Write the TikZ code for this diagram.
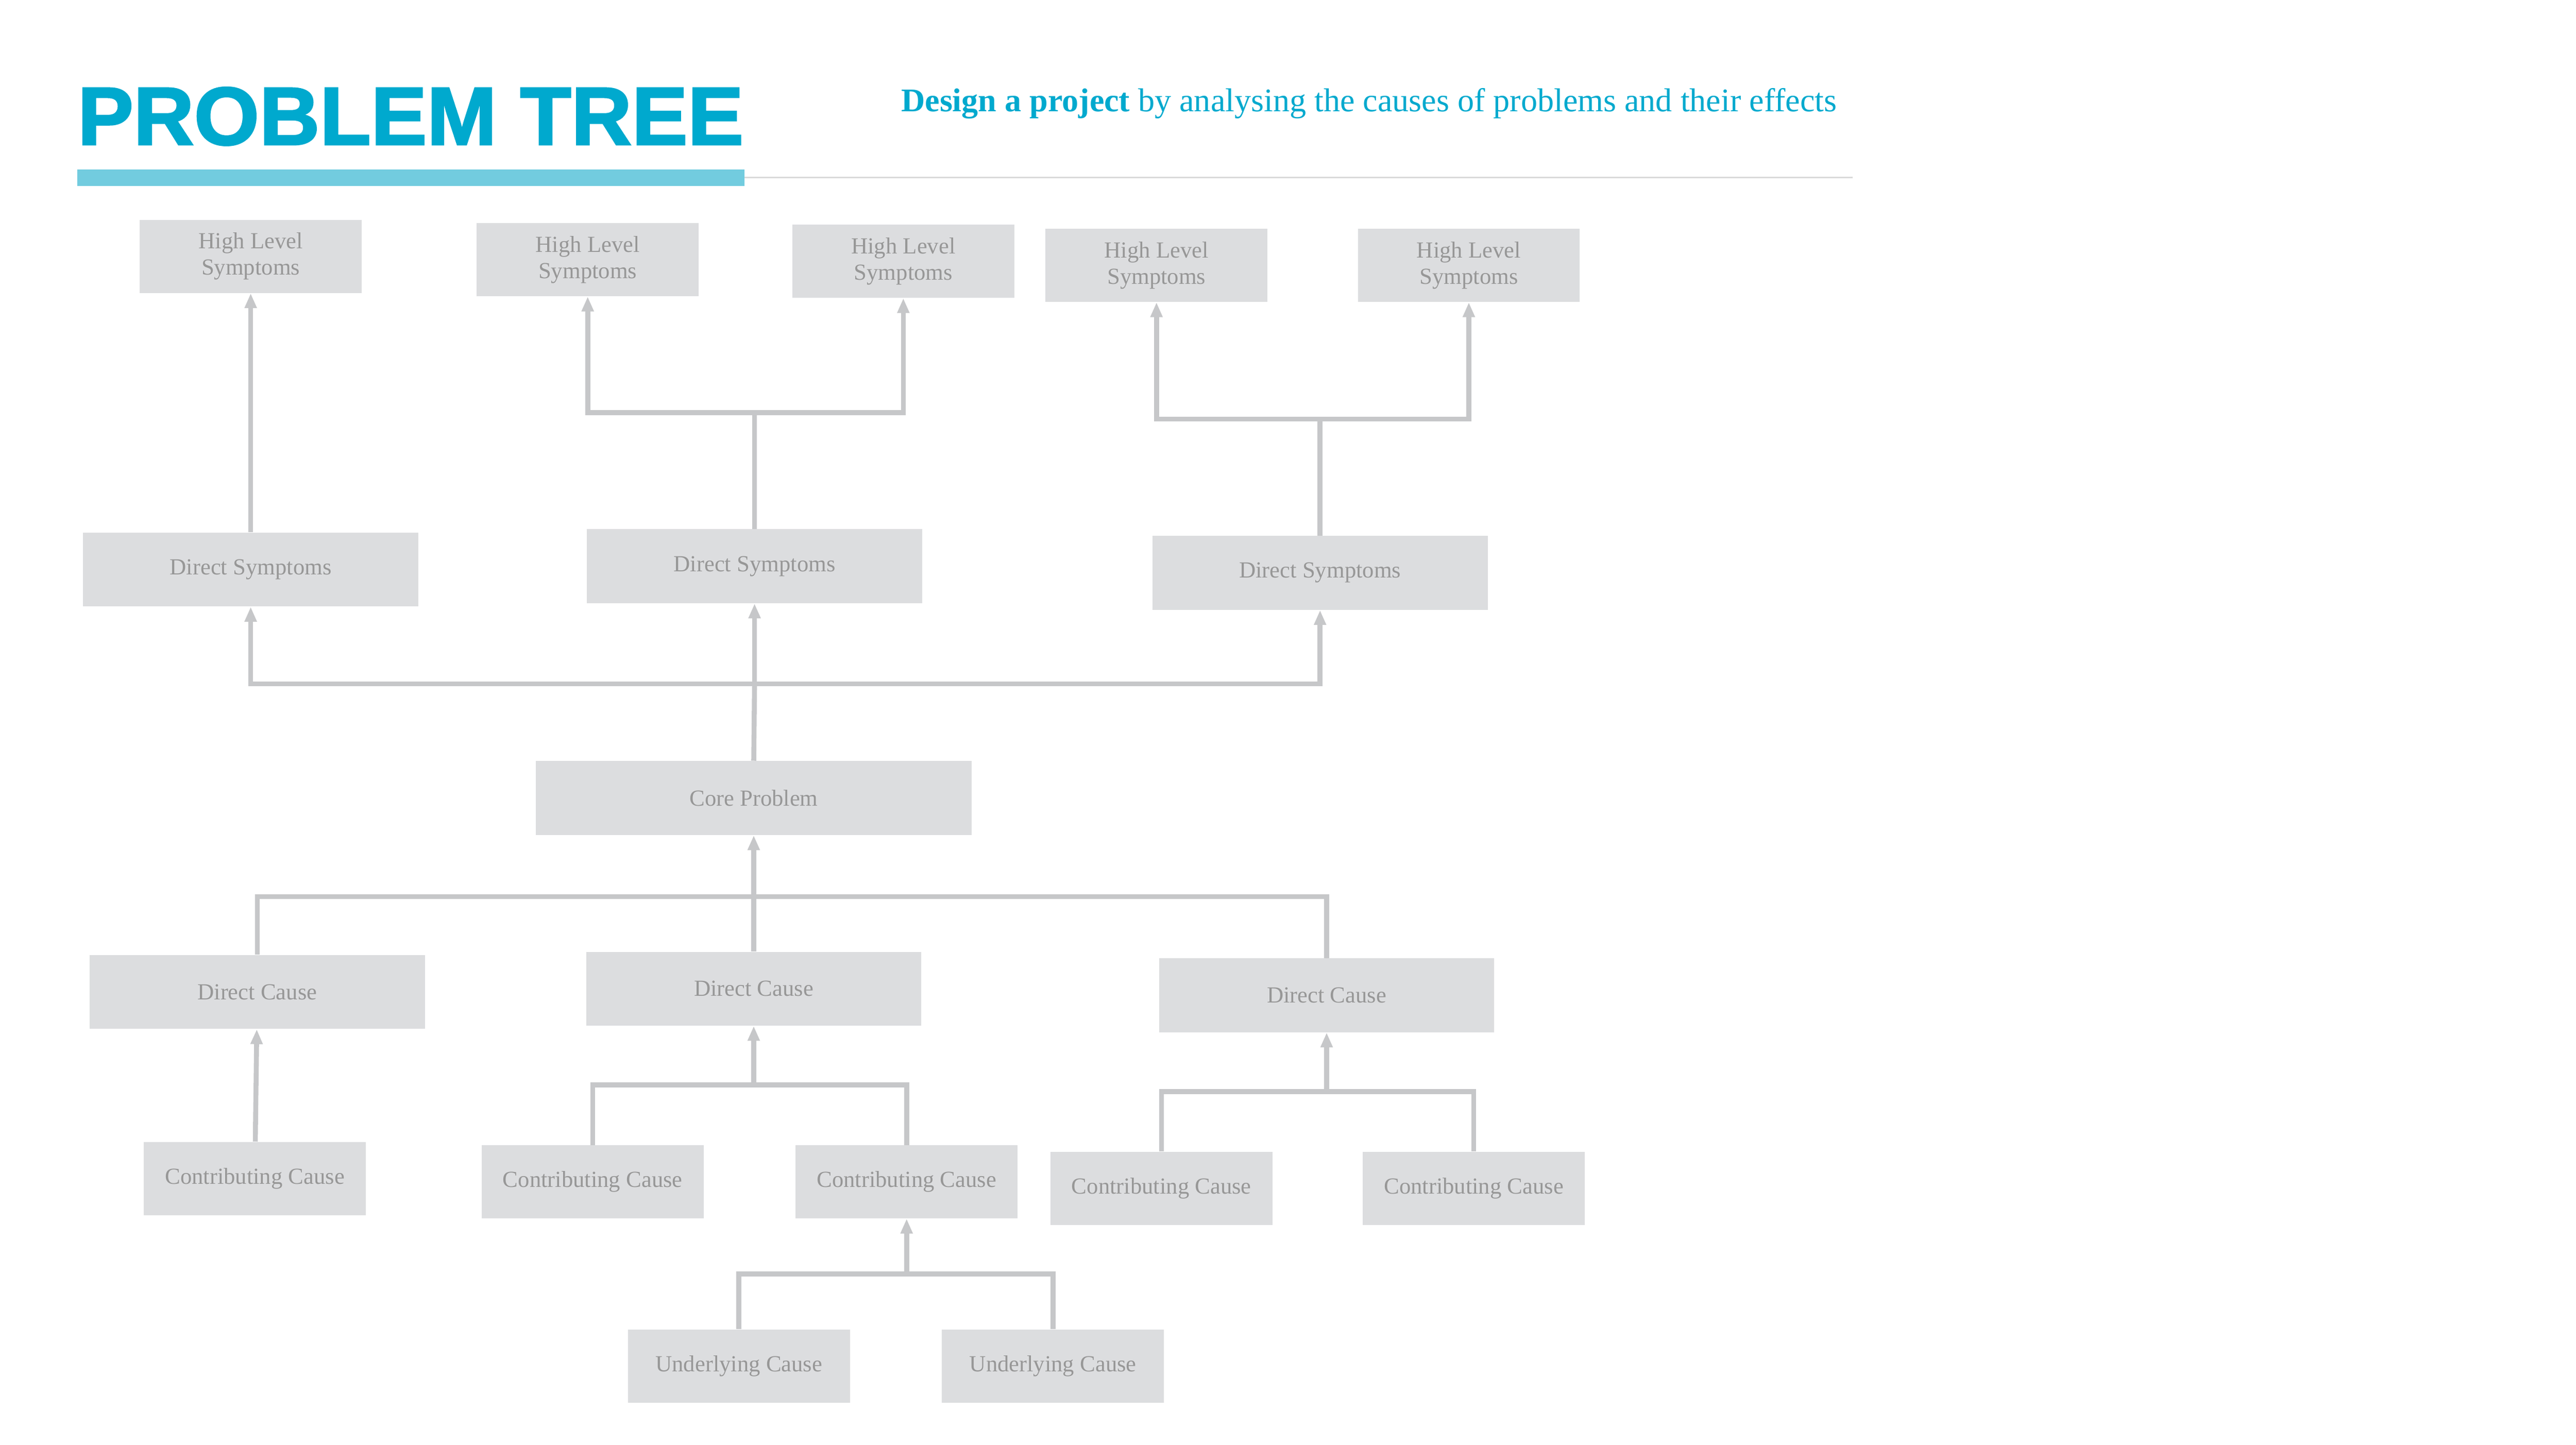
\documentclass[tikz,border=0pt]{standalone}
\usepackage{fontspec}
\setmainfont{Liberation Serif}
\newfontfamily\titlefont{Liberation Sans}
\usetikzlibrary{arrows.meta}
\definecolor{treecyan}{HTML}{00A9CE}
\definecolor{barcyan}{HTML}{72CCDF}
\definecolor{boxgray}{HTML}{DCDDDF}
\definecolor{textgray}{HTML}{979797}
\definecolor{linkgray}{HTML}{C6C7C9}
\definecolor{rulegray}{HTML}{D9D9D9}
\tikzset{
 probbox/.style={fill=boxgray, text=textgray, inner sep=0pt, align=center, font=\fontsize{14}{16}\selectfont},
 smallbox/.style={probbox, minimum width=135, minimum height=44.5},
 widebox/.style={probbox, minimum width=204, minimum height=45},
 link/.style={linkgray, line width=3pt},
 arr/.style={link, -{Triangle[length=9pt,width=7pt]}}
}

\begin{document}
\begin{tikzpicture}[x=1pt, y=-1pt]
\useasboundingbox (0,0) rectangle (1567,878.8);
\node[anchor=base west, inner sep=0pt, text=treecyan, font=\titlefont\bfseries\fontsize{50}{50}\selectfont\addfontfeatures{FakeBold=2,FakeStretch=1.02}] (title) at (47,88) {PROBLEM TREE};
\node[anchor=base west, inner sep=0pt, text=treecyan, font=\fontsize{20.1}{24}\selectfont] (subtitle) at (548,68) {\textbf{Design a project} by analysing the causes of problems and their effects};
\fill[barcyan] (47,103) rectangle (453,113);
\draw[rulegray, line width=1pt] (453,108)--(1127,108);

\foreach \n/\x/\y in {1/152.5/156, 2/357.5/158, 3/549.5/159, 4/703.5/161.5, 5/893.5/161.5} {
 \node[smallbox] (hls\n) at (\x,\y) {High Level\\Symptoms};
}
\foreach \n/\x/\y in {1/152.5/346.5, 2/459/344.5, 3/803/348.5} {
 \node[widebox] (ds\n) at (\x,\y) {Direct Symptoms};
}
\node[probbox, minimum width=265, minimum height=45] (core) at (458.5,485.5) {Core Problem};
\foreach \n/\x/\y in {1/156.5/603.5, 2/458.5/601.5, 3/807/605.5} {
 \node[widebox] (dc\n) at (\x,\y) {Direct Cause};
}
\foreach \n/\x/\y in {1/155/717, 2/360.5/719, 3/551.5/719, 4/706.5/723, 5/896.5/723} {
 \node[smallbox] (cc\n) at (\x,\y) {Contributing Cause};
}
\foreach \n/\x/\y in {1/449.5/831, 2/640.5/831} {
 \node[smallbox] (uc\n) at (\x,\y) {Underlying Cause};
}

\coordinate (s2) at (459,251);
\coordinate (s3) at (803,255);
\coordinate (s0) at (459,416);
\coordinate (c0) at (458.5,545.5);
\coordinate (c2) at (458.5,660);
\coordinate (c3) at (807,664);
\coordinate (u3) at (551.5,775);

\draw[arr] (ds1)--(hls1);
\draw[link] (ds2.north)--(s2);
\draw[arr] (s2) -| (hls2.south);
\draw[arr] (s2) -| (hls3.south);
\draw[link] (ds3.north)--(s3);
\draw[arr] (s3) -| (hls4.south);
\draw[arr] (s3) -| (hls5.south);

\draw[link] (core.north)--(s0);
\draw[arr] (s0)--(ds2);
\draw[arr] (s0) -| (ds1.south);
\draw[arr] (s0) -| (ds3.south);

\draw[arr] (c0)--(core);
\draw[link] (dc1.north) |- (c0);
\draw[link] (dc3.north) |- (c0);
\draw[link] (dc2.north)--(c0);

\draw[arr] (cc1)--(dc1);
\draw[arr] (c2)--(dc2);
\draw[link] (cc2.north) |- (c2);
\draw[link] (cc3.north) |- (c2);
\draw[arr] (c3)--(dc3);
\draw[link] (cc4.north) |- (c3);
\draw[link] (cc5.north) |- (c3);

\draw[arr] (u3)--(cc3);
\draw[link] (uc1.north) |- (u3);
\draw[link] (uc2.north) |- (u3);
\end{tikzpicture}
\end{document}
